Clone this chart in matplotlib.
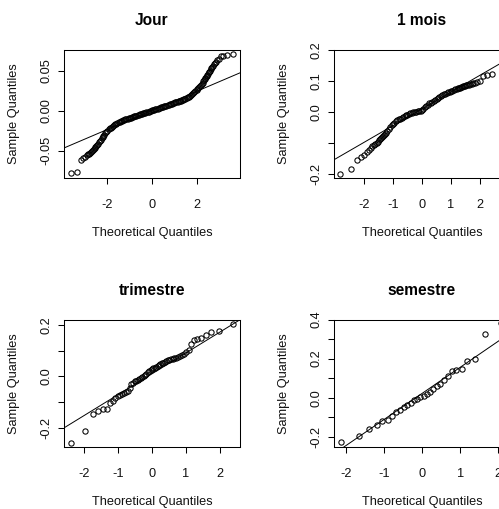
import matplotlib
matplotlib.use('Agg')
import matplotlib.pyplot as plt

plt.rcParams['font.family'] = ['Liberation Sans', 'DejaVu Sans']

# ---------------- data ----------------
titles = ['Jour', '1 mois', 'trimestre', 'semestre']

jour_x = [-3.65, -3.36, -3.21, -3.10, -3.01, -2.94, -2.88, -2.83, -2.78, -2.74,
          -2.70, -2.66, -2.62, -2.58, -2.54, -2.50, -2.46, -2.42, -2.38, -2.34,
          -2.30, -2.26, -2.22, -2.18, -2.14, -2.10, -2.05, -2.00, -1.95, -1.90,
          -1.85, -1.80, -1.75, -1.70, -1.65, -1.60, -1.55, -1.50, -1.45, -1.40,
          -1.35, -1.30, -1.25, -1.20, -1.15, -1.10, -1.05, -1.00, -0.95, -0.90,
          -0.85, -0.80, -0.75, -0.70, -0.65, -0.60, -0.55, -0.50, -0.45, -0.40,
          -0.35, -0.30, -0.25, -0.20, -0.15, -0.10, -0.05, 0.00, 0.05, 0.10,
          0.15, 0.20, 0.25, 0.30, 0.35, 0.40, 0.45, 0.50, 0.55, 0.60,
          0.65, 0.70, 0.75, 0.80, 0.85, 0.90, 0.95, 1.00, 1.05, 1.10,
          1.15, 1.20, 1.25, 1.30, 1.35, 1.40, 1.45, 1.50, 1.55, 1.60,
          1.65, 1.70, 1.75, 1.80, 1.85, 1.90, 1.95, 2.00, 2.04, 2.08,
          2.12, 2.16, 2.20, 2.24, 2.27, 2.30, 2.33, 2.36, 2.39, 2.42,
          2.45, 2.48, 2.51, 2.54, 2.57, 2.60, 2.63, 2.66, 2.70, 2.74,
          2.78, 2.83, 2.88, 2.94, 3.01, 3.10, 3.21, 3.36, 3.65]
jour_y = [-0.0775, -0.0768, -0.0620, -0.0595, -0.0575, -0.0556, -0.0545, -0.0536, -0.0527, -0.0518,
          -0.0506, -0.0493, -0.0480, -0.0467, -0.0453, -0.0439, -0.0425, -0.0409, -0.0393, -0.0377,
          -0.0361, -0.0345, -0.0329, -0.0312, -0.0296, -0.0281, -0.0263, -0.0246, -0.0231, -0.0219,
          -0.0210, -0.0199, -0.0188, -0.0177, -0.0168, -0.0159, -0.0151, -0.0145, -0.0138, -0.0132,
          -0.0125, -0.0119, -0.0113, -0.0107, -0.0103, -0.0098, -0.0094, -0.0089, -0.0084, -0.0079,
          -0.0075, -0.0070, -0.0065, -0.0060, -0.0056, -0.0051, -0.0046, -0.0041, -0.0037, -0.0032,
          -0.0028, -0.0023, -0.0019, -0.0014, -0.0009, -0.0004, 0.0000, 0.0005, 0.0010, 0.0014,
          0.0019, 0.0024, 0.0028, 0.0033, 0.0038, 0.0042, 0.0047, 0.0052, 0.0056, 0.0061,
          0.0066, 0.0070, 0.0075, 0.0080, 0.0085, 0.0089, 0.0094, 0.0099, 0.0104, 0.0108,
          0.0113, 0.0117, 0.0122, 0.0127, 0.0132, 0.0137, 0.0143, 0.0150, 0.0158, 0.0167,
          0.0177, 0.0187, 0.0198, 0.0209, 0.0221, 0.0233, 0.0245, 0.0258, 0.0268, 0.0280,
          0.0292, 0.0305, 0.0320, 0.0338, 0.0352, 0.0368, 0.0385, 0.0400, 0.0416, 0.0428,
          0.0438, 0.0450, 0.0465, 0.0480, 0.0490, 0.0500, 0.0520, 0.0530, 0.0550, 0.0565,
          0.0580, 0.0595, 0.0610, 0.0630, 0.0650, 0.0685, 0.0688, 0.0692, 0.0705]

mois_x = [-2.82, -2.44, -2.23, -2.10, -1.99, -1.91, -1.83, -1.77, -1.71, -1.66,
          -1.61, -1.56, -1.52, -1.48, -1.44, -1.41, -1.375, -1.34, -1.31, -1.28,
          -1.25, -1.20, -1.15, -1.10, -1.05, -1.00, -0.95, -0.90, -0.85, -0.80,
          -0.75, -0.70, -0.65, -0.60, -0.55, -0.50, -0.45, -0.40, -0.35, -0.30,
          -0.25, -0.20, -0.15, -0.10, -0.05, 0.00, 0.05, 0.10, 0.15, 0.20,
          0.25, 0.30, 0.35, 0.40, 0.45, 0.50, 0.55, 0.60, 0.65, 0.70,
          0.75, 0.80, 0.85, 0.90, 0.95, 1.00, 1.05, 1.10, 1.15, 1.20,
          1.25, 1.28, 1.31, 1.34, 1.375, 1.41, 1.44, 1.48, 1.52, 1.56,
          1.61, 1.66, 1.71, 1.77, 1.83, 1.91, 1.99, 2.10, 2.23, 2.42, 2.75]
mois_y = [-0.199, -0.186, -0.154, -0.147, -0.139, -0.130, -0.122, -0.116, -0.111, -0.107,
          -0.103, -0.099, -0.096, -0.092, -0.088, -0.085, -0.081, -0.078, -0.075, -0.072,
          -0.068, -0.062, -0.056, -0.049, -0.043, -0.039, -0.035, -0.031, -0.027, -0.024,
          -0.022, -0.019, -0.0165, -0.014, -0.0115, -0.0088, -0.0062, -0.0045, -0.0030, -0.0015,
          -0.0005, 0.0005, 0.0015, 0.0025, 0.0040, 0.0064, 0.0105, 0.0145, 0.0190, 0.0230,
          0.0270, 0.0300, 0.0320, 0.0350, 0.0380, 0.0410, 0.0450, 0.0490, 0.0520, 0.0540,
          0.0565, 0.0590, 0.0610, 0.0630, 0.0645, 0.0660, 0.0680, 0.0700, 0.0720, 0.0740,
          0.0760, 0.0770, 0.0780, 0.0795, 0.0810, 0.0820, 0.0830, 0.0845, 0.0860, 0.0870,
          0.0880, 0.0900, 0.0910, 0.0930, 0.0940, 0.0960, 0.0990, 0.1160, 0.1190, 0.1210, 0.1846]

tri_x = [-2.40, -1.97, -1.74, -1.58, -1.45, -1.34, -1.245, -1.16, -1.083, -1.012,
         -0.946, -0.883, -0.824, -0.768, -0.714, -0.662, -0.611, -0.562, -0.514, -0.468,
         -0.423, -0.379, -0.335, -0.292, -0.249, -0.207, -0.165, -0.124, -0.082, -0.041,
         0.0, 0.041, 0.082, 0.124, 0.165, 0.207, 0.249, 0.292, 0.335, 0.379,
         0.423, 0.468, 0.514, 0.562, 0.611, 0.662, 0.714, 0.768, 0.824, 0.883,
         0.946, 1.012, 1.083, 1.16, 1.245, 1.34, 1.45, 1.58, 1.74, 1.97, 2.40]
tri_y = [-0.258, -0.214, -0.148, -0.133, -0.127, -0.126, -0.104, -0.094, -0.086, -0.076,
         -0.071, -0.068, -0.066, -0.062, -0.055, -0.045, -0.031, -0.025, -0.019, -0.016,
         -0.013, -0.009, -0.005, -0.002, 0.003, 0.007, 0.011, 0.016, 0.021, 0.024,
         0.028, 0.031, 0.034, 0.038, 0.042, 0.045, 0.048, 0.051, 0.053, 0.056,
         0.059, 0.062, 0.065, 0.067, 0.069, 0.071, 0.073, 0.075, 0.078, 0.083,
         0.089, 0.094, 0.102, 0.125, 0.141, 0.145, 0.150, 0.160, 0.173, 0.177, 0.205]

sem_x = [-2.128, -1.645, -1.383, -1.192, -1.036, -0.903, -0.783, -0.674, -0.573, -0.477,
         -0.385, -0.297, -0.210, -0.126, -0.042, 0.042, 0.126, 0.210, 0.297, 0.385,
         0.477, 0.573, 0.674, 0.783, 0.903, 1.036, 1.192, 1.383, 1.645, 2.06]
sem_y = [-0.228, -0.197, -0.159, -0.141, -0.119, -0.112, -0.095, -0.072, -0.064, -0.050,
         -0.038, -0.029, -0.012, -0.008, 0.002, 0.009, 0.020, 0.031, 0.043, 0.061,
         0.071, 0.088, 0.109, 0.138, 0.142, 0.145, 0.190, 0.200, 0.325, 0.380]

# reference lines (intercept, slope)
lines = [(0.0005, 0.01187), (0.0097, 0.0542), (0.0101, 0.081), (0.0214, 0.1337)]

xlims = [(-3.94, 3.94), (-3.02, 3.02), (-2.59, 2.59), (-2.30, 2.30)]
ylims = [(-0.0843, 0.0762), (-0.2144, 0.200), (-0.276, 0.2215), (-0.254, 0.400)]

xticks = [[-2, 0, 2], [-2, -1, 0, 1, 2], [-2, -1, 0, 1, 2], [-2, -1, 0, 1, 2]]
xticklabels = [['-2', '0', '2'], ['-2', '-1', '0', '1', '2'],
               ['-2', '-1', '0', '1', '2'], ['-2', '-1', '0', '1', '2']]
yticks = [[-0.05, 0.0, 0.05], [-0.2, -0.1, 0.0, 0.1, 0.2],
          [-0.2, -0.1, 0.0, 0.1, 0.2], [-0.2, -0.1, 0.0, 0.1, 0.2, 0.3, 0.4]]
yticklabels = [['-0.05', '0.00', '0.05'], ['-0.2', '', '0.0', '0.1', '0.2'],
               ['-0.2', '', '0.0', '', '0.2'], ['-0.2', '', '0.0', '', '0.2', '', '0.4']]

xs = [jour_x, mois_x, tri_x, sem_x]
ys = [jour_y, mois_y, tri_y, sem_y]

# ---------------- layout ----------------
W, H = 499, 509
PX = 0.72  # points per pixel at dpi 100


def rect(l, t, r, b):
    return [l / W, 1 - b / H, (r - l) / W, (b - t) / H]


rects = [rect(64.3, 49.8, 239.7, 178.3), rect(334.3, 49.8, 509.7, 178.3),
         rect(64.3, 319.5, 239.7, 447.3), rect(334.3, 319.5, 509.7, 447.3)]

fig = plt.figure(figsize=(W / 100, H / 100), dpi=100)
fig.patch.set_facecolor('white')

FS = 9.15
TXT = '#111111'

for i in range(4):
    ax = fig.add_axes(rects[i])
    ax.plot(xs[i], ys[i], 'o', mfc='none', mec='black', ms=3.8, mew=0.75)
    b, m = lines[i]
    ax.axline((0, b), slope=m, color='black', lw=0.7)
    ax.set_xlim(*xlims[i])
    ax.set_ylim(*ylims[i])
    ax.set_xticks(xticks[i])
    ax.set_xticklabels(xticklabels[i])
    ax.set_yticks(yticks[i])
    ax.set_yticklabels(yticklabels[i], rotation=90, va='center')
    ax.tick_params(direction='out', length=6 * PX, width=0.75, colors='black',
                   labelsize=FS, labelcolor=TXT)
    ax.tick_params(axis='x', pad=10.5)
    ax.tick_params(axis='y', pad=4.5)
    for s in ax.spines.values():
        s.set_linewidth(0.75)
        s.set_color('black')
    ax.annotate(titles[i], xy=(0.5, 1), xycoords='axes fraction',
                xytext=(0, 29.3 * PX), textcoords='offset points',
                ha='center', va='center', fontsize=11.2, fontweight='bold',
                color='black')
    ax.annotate('Theoretical Quantiles', xy=(0.5, 0), xycoords='axes fraction',
                xytext=(0, -54.7 * PX), textcoords='offset points',
                ha='center', va='center', fontsize=FS, color=TXT)
    ax.annotate('Sample Quantiles', xy=(0, 0.5), xycoords='axes fraction',
                xytext=(-50.3 * PX, 0), textcoords='offset points',
                ha='center', va='center', fontsize=FS, color=TXT, rotation=90)

fig.savefig('out.png', dpi=100, facecolor='white')
